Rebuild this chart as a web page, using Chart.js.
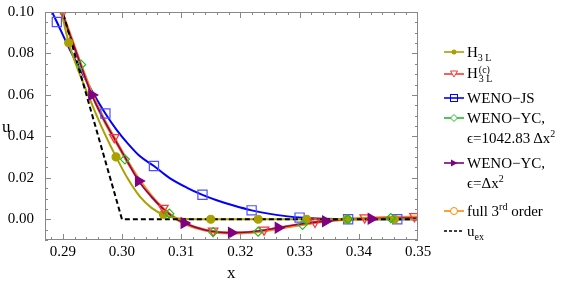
<!DOCTYPE html>
<html>
<head>
<meta charset="utf-8">
<script src="https://cdn.jsdelivr.net/npm/chart.js@4"></script>
<style>
body { margin: 0; background: #fff; font-family: "Liberation Serif", serif; }
#wrap { position: relative; width: 581px; height: 285px; }
.lg { position: absolute; left: 444px; height: 16px; font-size: 15px; line-height: 16px; white-space: nowrap; display: flex; align-items: center; }
.lg svg { width: 20px; height: 12px; margin-right: 3px; }
.lg .txt { display: inline-block; }
.stack { display: inline-flex; flex-direction: column; font-size: 10px; line-height: 9px; vertical-align: middle; margin-left: 1px; }
sub, sup { font-size: 10px; line-height: 0; }
.axlab { position: absolute; font-size: 17px; line-height: 18px; }
</style>
</head>
<body>
<div id="wrap">
  <canvas id="c" width="581" height="285"></canvas>
  <div class="axlab" style="left:2px;top:118px;">u</div>
  <div class="axlab" style="left:227px;top:264px;">x</div>
  <div id="legend"></div>
</div>
<script>
const xTicks = [0.29, 0.30, 0.31, 0.32, 0.33, 0.34, 0.35];
const yTicks = [0.00, 0.02, 0.04, 0.06, 0.08, 0.10];

// curves [x, u]
const exactLine = [[0.289, 0.11], [0.30, 0], [0.35, 0]];

const h3lLine = [[0.2896, 0.102], [0.2910, 0.0852], [0.2930, 0.0690], [0.2950, 0.0550], [0.2970, 0.0418],
  [0.2990, 0.0301], [0.3010, 0.0195], [0.3030, 0.0110], [0.3050, 0.0055], [0.3070, 0.0022], [0.3090, 0.0006],
  [0.3110, 0.0001], [0.3150, 0], [0.3500, 0]];
const h3lMarks = [[0.2910, 0.0852], [0.2990, 0.0301], [0.3070, 0.0024], [0.3150, 0], [0.3230, 0], [0.3312, 0], [0.3380, 0], [0.3460, 0]];

const h3lcLine = [[0.2898, 0.101], [0.2915, 0.0870], [0.2930, 0.0752], [0.2950, 0.0605], [0.2970, 0.0482],
  [0.2990, 0.0380], [0.3010, 0.0280], [0.3030, 0.0188], [0.3050, 0.0112], [0.3070, 0.0052], [0.3090, 0.0007],
  [0.3110, -0.0023], [0.3140, -0.0050], [0.3170, -0.0061], [0.3200, -0.0062], [0.3230, -0.0055], [0.3260, -0.0042],
  [0.3300, -0.0024], [0.3340, -0.0009], [0.3380, 0.0001], [0.3420, 0.0007], [0.3460, 0.0011], [0.3500, 0.0013]];
const h3lcMarks = [[0.2900, 0.1000], [0.2987, 0.0395], [0.3070, 0.0054], [0.3154, -0.0056], [0.3240, -0.0051],
  [0.3326, -0.0013], [0.3410, 0.0008], [0.3494, 0.0014]];

const jsLine = [[0.2882, 0.1], [0.2890, 0.0952], [0.2910, 0.0830], [0.2930, 0.0720], [0.2950, 0.0615], [0.2972, 0.0510],
  [0.2990, 0.0435], [0.3010, 0.0365], [0.3030, 0.0305], [0.3054, 0.0257], [0.3080, 0.0200], [0.3110, 0.0152],
  [0.3136, 0.0118], [0.3160, 0.0092], [0.3190, 0.0065], [0.3219, 0.0043], [0.3250, 0.0026], [0.3280, 0.0014],
  [0.3300, 0.0008], [0.3340, 0.0002], [0.3382, 0], [0.3500, 0]];
const jsMarks = [[0.2890, 0.0952], [0.2972, 0.0510], [0.3054, 0.0257], [0.3136, 0.0118], [0.3219, 0.0043],
  [0.3300, 0.0008], [0.3382, 0], [0.3465, 0]];

const yc1Line = [[0.2897, 0.101], [0.2915, 0.0868], [0.2931, 0.0746], [0.2950, 0.0603], [0.2970, 0.0480],
  [0.2990, 0.0377], [0.3005, 0.0292], [0.3030, 0.0186], [0.3050, 0.0110], [0.3070, 0.0051], [0.3080, 0.0028],
  [0.3110, -0.0025], [0.3140, -0.0053], [0.3170, -0.0065], [0.3200, -0.0066], [0.3230, -0.0060], [0.3260, -0.0046],
  [0.3305, -0.0027], [0.3340, -0.0011], [0.3382, 0], [0.3420, 0.0004], [0.3454, 0.0006], [0.3500, 0.0008]];
const yc1Marks = [[0.2931, 0.0746], [0.3005, 0.0289], [0.3080, 0.0027], [0.3154, -0.0062], [0.3230, -0.0060],
  [0.3305, -0.0027], [0.3382, 0], [0.3454, 0.0006]];

const yc2Line = [[0.2897, 0.101], [0.2915, 0.0868], [0.2930, 0.0748], [0.2949, 0.0600], [0.2970, 0.0477],
  [0.2990, 0.0375], [0.3010, 0.0275], [0.3028, 0.0185], [0.3050, 0.0108], [0.3070, 0.0049], [0.3090, 0.0004],
  [0.3105, -0.0018], [0.3140, -0.0052], [0.3170, -0.0064], [0.3185, -0.0065], [0.3220, -0.0060], [0.3264, -0.0041],
  [0.3300, -0.0024], [0.3344, -0.0009], [0.3380, 0], [0.3421, 0.0003], [0.3460, 0.0005], [0.3500, 0.0006]];
const yc2Marks = [[0.2949, 0.0600], [0.3028, 0.0185], [0.3105, -0.0018], [0.3185, -0.0065], [0.3264, -0.0041],
  [0.3344, -0.0010], [0.3421, 0.0003]];

const fullLine = [[0.2897, 0.101], [0.2915, 0.0868], [0.2930, 0.0748], [0.2950, 0.0600], [0.2970, 0.0478],
  [0.2990, 0.0375], [0.3010, 0.0275], [0.3030, 0.0185], [0.3050, 0.0110], [0.3070, 0.0050], [0.3090, 0.0005],
  [0.3110, -0.0025], [0.3140, -0.0052], [0.3170, -0.0065], [0.3200, -0.0066], [0.3230, -0.0059], [0.3260, -0.0045],
  [0.3300, -0.0026], [0.3340, -0.0010], [0.3380, 0], [0.3420, 0.0005], [0.3460, 0.0008], [0.3500, 0.0010]];

const xy = a => a.map(p => ({ x: p[0], y: p[1] }));

function lineSet(data, color, width, dash, straight) {
    return { type: 'line', data: xy(data), borderColor: color, borderWidth: width, borderDash: dash || [],
        pointRadius: 0, tension: straight ? 0 : 0.4, cubicInterpolationMode: straight ? 'default' : 'monotone', fill: false };
}
function markSet(data, style, radius, border, bg, rot) {
    return { type: 'scatter', data: xy(data), showLine: false, pointStyle: style, pointRadius: radius,
        pointBorderColor: border, pointBackgroundColor: bg, pointBorderWidth: 1.2, pointRotation: rot || 0 };
}

// first dataset is drawn on top
const datasets = [
    markSet(yc2Marks, 'triangle', 6, '#800080', '#800080', 90),
    markSet(yc1Marks, 'rectRot', 4.5, '#22bb22', 'rgba(255,255,255,0)'),
    markSet(h3lcMarks, 'triangle', 5.5, '#ff3333', 'rgba(255,255,255,0)', 180),
    markSet(h3lMarks, 'circle', 4, '#aaa000', '#aaa000'),
    markSet(jsMarks, 'rect', 6.5, '#5050ff', 'rgba(255,255,255,0)'),
    lineSet(exactLine, '#000', 2, [5, 3], true),
    lineSet(h3lLine, '#aaa000', 2),
    lineSet(yc2Line, '#800080', 1.6),
    lineSet(fullLine, '#ff8800', 3.2),
    lineSet(h3lcLine, '#ff3333', 1.4),
    lineSet(yc1Line, '#22bb22', 1.4),
    lineSet(jsLine, '#0000ff', 2)
];

const frameTicks = {
    id: 'frameTicks',
    afterDraw(chart) {
        const ctx = chart.ctx, a = chart.chartArea;
        const xs = chart.scales.x, ys = chart.scales.y;
        ctx.save();
        ctx.strokeStyle = '#888';
        ctx.lineWidth = 1;
        ctx.strokeRect(a.left + 0.5, a.top + 0.5, a.right - a.left - 1, a.bottom - a.top - 1);
        ctx.beginPath();
        for (let i = 0; i <= 31; i++) {
            const v = 0.288 + i * 0.002;
            const major = Math.abs(v * 100 - Math.round(v * 100)) < 1e-6;
            const px = Math.round(xs.getPixelForValue(v)) + 0.5;
            if (px < a.left || px > a.right) continue;
            const len = major ? 6 : 3;
            ctx.moveTo(px, a.bottom); ctx.lineTo(px, a.bottom - len);
            ctx.moveTo(px, a.top); ctx.lineTo(px, a.top + len);
        }
        for (let i = 0; i <= 22; i++) {
            const v = -0.01 + i * 0.005;
            const major = Math.abs(v * 50 - Math.round(v * 50)) < 1e-6;
            const py = Math.round(ys.getPixelForValue(v)) + 0.5;
            const len = major ? 6 : 3;
            ctx.moveTo(a.left, py); ctx.lineTo(a.left + len, py);
            ctx.moveTo(a.right, py); ctx.lineTo(a.right - len, py);
        }
        ctx.stroke();
        ctx.restore();
    }
};

new Chart(document.getElementById('c'), {
    data: { datasets },
    options: {
        responsive: false,
        animation: false,
        clip: true,
        layout: { padding: { top: 9, right: 163, left: 0, bottom: 0 } },
        plugins: { legend: { display: false }, tooltip: { enabled: false } },
        scales: {
            x: {
                type: 'linear', min: 0.287, max: 0.35,
                afterBuildTicks: s => { s.ticks = xTicks.map(v => ({ value: v })); },
                afterFit: s => { s.height = 45; },
                grid: { display: false },
                border: { display: false },
                ticks: { color: '#000', padding: -5, maxRotation: 0, font: { family: 'Liberation Serif', size: 15 },
                    callback: v => v.toFixed(2) }
            },
            y: {
                type: 'linear', min: -0.01, max: 0.10,
                afterBuildTicks: s => { s.ticks = yTicks.map(v => ({ value: v })); },
                afterFit: s => { s.width = 45; },
                grid: { display: false },
                border: { display: false },
                ticks: { color: '#000', padding: 3, font: { family: 'Liberation Serif', size: 15 },
                    callback: v => v.toFixed(2) }
            }
        }
    },
    plugins: [frameTicks]
});

// legend
const legendRows = [
    { y: 52, html: 'H<sub>3 L</sub>', color: '#aaa000', mark: 'dot' },
    { y: 74, html: 'H<span class="stack"><span>(c)</span><span>3 L</span></span>', color: '#ff3333', mark: 'tri' },
    { y: 98, html: 'WENO&minus;JS', color: '#0000ff', mark: 'sq' },
    { y: 118, html: 'WENO&minus;YC,', color: '#22bb22', mark: 'dia' },
    { y: 138, html: '&#x03F5;=1042.83 &Delta;x<sup>2</sup>', indent: true },
    { y: 163, html: 'WENO&minus;YC,', color: '#800080', mark: 'rtri' },
    { y: 183, html: '&#x03F5;=&Delta;x<sup>2</sup>', indent: true },
    { y: 211, html: 'full 3<sup>rd</sup> order', color: '#ff8800', mark: 'circ' },
    { y: 231, html: 'u<sub>ex</sub>', color: '#000', mark: 'dash' }
];
function icon(r) {
    const c = r.color;
    let m = '';
    if (r.mark === 'dot') m = `<circle cx="10" cy="6" r="2.5" fill="${c}"/>`;
    if (r.mark === 'tri') m = `<polygon points="6.5,3 13.5,3 10,9" fill="#fff" stroke="${c}" stroke-width="1"/>`;
    if (r.mark === 'sq') m = `<rect x="6.5" y="2.5" width="7" height="7" fill="none" stroke="${c}" stroke-width="1"/>`;
    if (r.mark === 'dia') m = `<polygon points="10,2.5 13.5,6 10,9.5 6.5,6" fill="#fff" stroke="${c}" stroke-width="1"/>`;
    if (r.mark === 'rtri') m = `<polygon points="7,2.5 13.5,6 7,9.5" fill="${c}"/>`;
    if (r.mark === 'circ') m = `<circle cx="10" cy="6" r="3.5" fill="#fff" stroke="${c}" stroke-width="1"/>`;
    const dash = r.mark === 'dash' ? ' stroke-dasharray="3,2"' : '';
    return `<svg viewBox="0 0 20 12"><line x1="0" y1="6" x2="20" y2="6" stroke="${c}" stroke-width="1.6"${dash}/>${m}</svg>`;
}
document.getElementById('legend').innerHTML = legendRows.map(r =>
    `<div class="lg" style="top:${r.y - 8}px;${r.indent ? 'left:467px;' : ''}">${r.indent ? '' : icon(r)}<span class="txt">${r.html}</span></div>`
).join('');
</script>
</body>
</html>
